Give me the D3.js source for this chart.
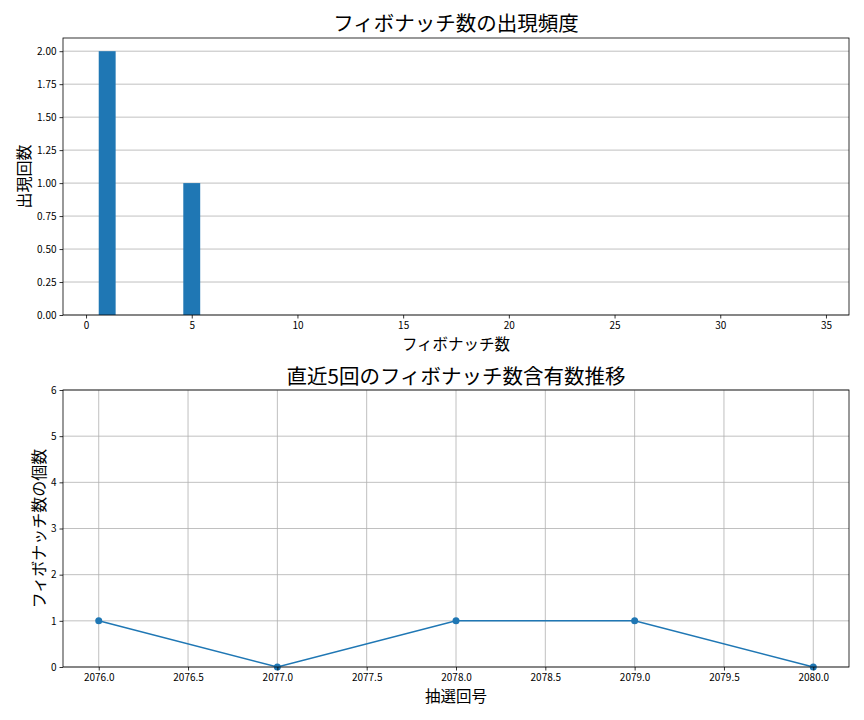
<!DOCTYPE html>
<html><head><meta charset="utf-8">
<script src="https://cdn.jsdelivr.net/npm/d3@7"></script>
<style>
body{margin:0;background:#fff;}
text{font-family:"Noto Sans CJK JP","Noto Sans",sans-serif;fill:#000;}
.tick text{font-family:"Liberation Sans Narrow","Noto Sans CJK JP",sans-serif;}
</style></head>
<body>
<svg id="c" width="864" height="720"></svg>
<script>
const fibNumbers = [1, 2, 3, 5, 8, 13, 21, 34];
const fibCounts = [2, 0, 0, 1, 0, 0, 0, 0];
const histXTicks = [0, 5, 10, 15, 20, 25, 30, 35];
const histYTicks = [0, 0.25, 0.5, 0.75, 1.0, 1.25, 1.5, 1.75, 2.0];
const draws = [2076, 2077, 2078, 2079, 2080];
const fibPerDraw = [1, 0, 1, 1, 0];
const drawTicks = [2076.0, 2076.5, 2077.0, 2077.5, 2078.0, 2078.5, 2079.0, 2079.5, 2080.0];
const countTicks = [0, 1, 2, 3, 4, 5, 6];

const svg = d3.select("#c");
const blue = "#1f77b4";
const L = 63, R = 849;

// ---------- Top chart ----------
const t1 = 38, b1 = 315;
const barW = 0.8;
const xminB = d3.min(fibNumbers) - barW/2, xmaxB = d3.max(fibNumbers) + barW/2;
const padB = (xmaxB - xminB) * 0.05;
const x1 = d3.scaleLinear().domain([xminB - padB, xmaxB + padB]).range([L, R]);
const y1 = d3.scaleLinear().domain([0, 2.1]).range([b1, t1]);

const g1 = svg.append("g");
g1.selectAll("line.grid").data(histYTicks).enter().append("line")
  .attr("x1", L).attr("x2", R).attr("y1", d => y1(d)).attr("y2", d => y1(d))
  .attr("stroke", "#b0b0b0").attr("stroke-width", 0.8);
g1.selectAll("rect.bar").data(fibNumbers.map((f,i)=>({f, c: fibCounts[i]}))).enter().append("rect")
  .attr("x", d => x1(d.f - barW/2)).attr("width", d => x1(d.f + barW/2) - x1(d.f - barW/2))
  .attr("y", d => y1(d.c)).attr("height", d => y1(0) - y1(d.c)).attr("fill", blue);

const ax1 = g1.append("g").attr("transform", `translate(0,${b1})`)
  .call(d3.axisBottom(x1).tickValues(histXTicks).tickFormat(d3.format("d")).tickSize(3.5).tickPadding(3));
const ay1 = g1.append("g").attr("transform", `translate(${L},0)`)
  .call(d3.axisLeft(y1).tickValues(histYTicks).tickFormat(d3.format(".2f")).tickSize(3.5).tickPadding(3));
[ax1, ay1].forEach(a => { a.select(".domain").remove(); a.selectAll("text").attr("font-size", 10).attr("fill","#000"); a.selectAll("line").attr("stroke","#000").attr("stroke-width",0.8); });
g1.append("rect").attr("x", L).attr("y", t1).attr("width", R-L).attr("height", b1-t1)
  .attr("fill", "none").attr("stroke", "#000").attr("stroke-width", 0.8);

g1.append("text").attr("x", (L+R)/2).attr("y", 31).attr("text-anchor","middle").attr("font-size", 20.5).text("フィボナッチ数の出現頻度");
g1.append("text").attr("x", (L+R)/2).attr("y", 350).attr("text-anchor","middle").attr("font-size", 15.5).text("フィボナッチ数");
g1.append("text").attr("transform", `translate(30,${(t1+b1)/2}) rotate(-90)`).attr("text-anchor","middle").attr("font-size", 16).text("出現回数");

// ---------- Bottom chart ----------
const t2 = 390, b2 = 667;
const x2 = d3.scaleLinear().domain([2075.8, 2080.2]).range([L, R]);
const y2 = d3.scaleLinear().domain([0, 6]).range([b2, t2]);
const g2 = svg.append("g");
g2.selectAll("line.gx").data(drawTicks).enter().append("line")
  .attr("x1", d => x2(d)).attr("x2", d => x2(d)).attr("y1", t2).attr("y2", b2)
  .attr("stroke", "#b0b0b0").attr("stroke-width", 0.8);
g2.selectAll("line.gy").data(countTicks).enter().append("line")
  .attr("x1", L).attr("x2", R).attr("y1", d => y2(d)).attr("y2", d => y2(d))
  .attr("stroke", "#b0b0b0").attr("stroke-width", 0.8);

const pts = draws.map((d,i)=>({d, v: fibPerDraw[i]}));
g2.append("path").datum(pts)
  .attr("d", d3.line().x(p => x2(p.d)).y(p => y2(p.v)))
  .attr("fill","none").attr("stroke", blue).attr("stroke-width", 1.5);
g2.selectAll("circle").data(pts).enter().append("circle")
  .attr("cx", p => x2(p.d)).attr("cy", p => y2(p.v)).attr("r", 3.5).attr("fill", blue);

const ax2 = g2.append("g").attr("transform", `translate(0,${b2})`)
  .call(d3.axisBottom(x2).tickValues(drawTicks).tickFormat(d3.format(".1f")).tickSize(3.5).tickPadding(3));
const ay2 = g2.append("g").attr("transform", `translate(${L},0)`)
  .call(d3.axisLeft(y2).tickValues(countTicks).tickFormat(d3.format("d")).tickSize(3.5).tickPadding(3));
[ax2, ay2].forEach(a => { a.select(".domain").remove(); a.selectAll("text").attr("font-size", 10).attr("fill","#000"); a.selectAll("line").attr("stroke","#000").attr("stroke-width",0.8); });
g2.append("rect").attr("x", L).attr("y", t2).attr("width", R-L).attr("height", b2-t2)
  .attr("fill", "none").attr("stroke", "#000").attr("stroke-width", 0.8);

g2.append("text").attr("x", (L+R)/2).attr("y", 384).attr("text-anchor","middle").attr("font-size", 20.5).text("直近5回のフィボナッチ数含有数推移");
g2.append("text").attr("x", (L+R)/2).attr("y", 702).attr("text-anchor","middle").attr("font-size", 15.5).text("抽選回号");
g2.append("text").attr("transform", `translate(45,${(t2+b2)/2}) rotate(-90)`).attr("text-anchor","middle").attr("font-size", 16).text("フィボナッチ数の個数");
</script>
</body></html>
